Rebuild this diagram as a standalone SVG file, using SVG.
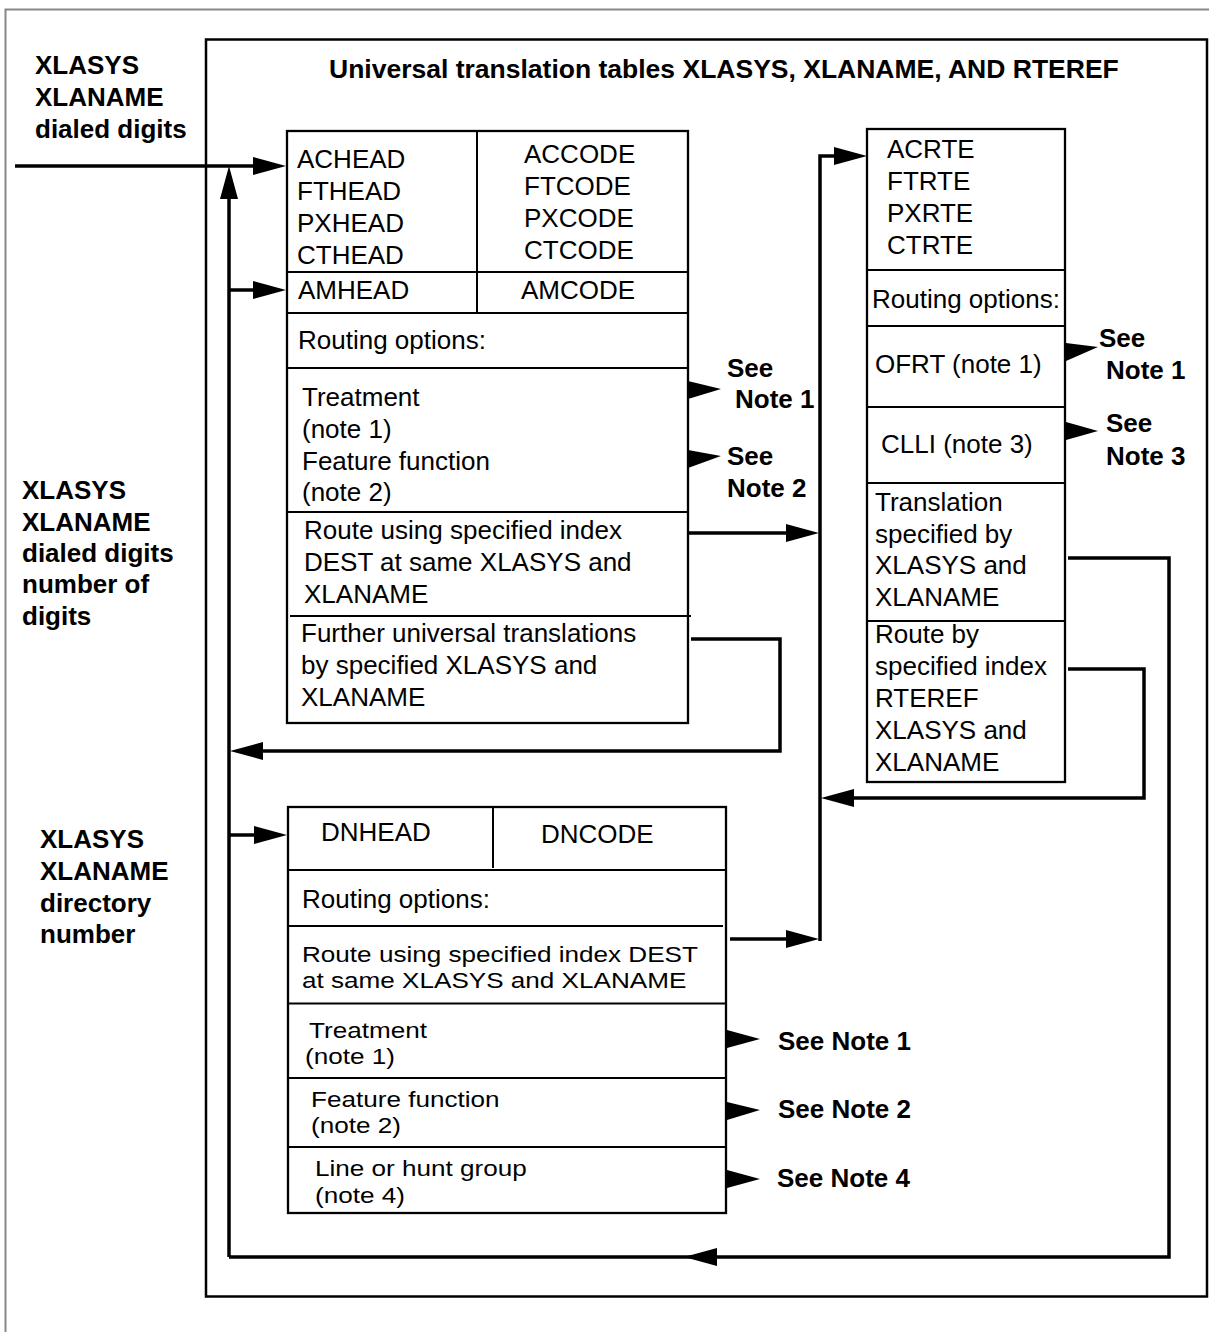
<svg xmlns="http://www.w3.org/2000/svg" xmlns:xlink="http://www.w3.org/1999/xlink" width="1209" height="1332" viewBox="0 0 1209 1332">
<style>
text{font-family:"Liberation Sans",Arial,Helvetica,sans-serif;fill:#000}
.r{font-size:26px}
.s{font-size:22.5px}
.b{font-size:26px;font-weight:bold}
.t{font-size:26.5px;font-weight:bold}
.box{fill:#fff;stroke:#000;stroke-width:2.3}
.div{stroke:#000;stroke-width:2;fill:none}
.con{stroke:#000;stroke-width:3.5;fill:none}
.ah{fill:#000;stroke:none}
</style>
<defs>
<path id="ah" d="M0,0 L-33,-9 L-33,9 Z"/>
</defs>
<rect x="0" y="0" width="1209" height="1332" fill="#fff"/>
<path d="M5.5,1332 V9.5 H1209" fill="none" stroke="#888" stroke-width="2"/>
<rect x="206" y="39.5" width="1001" height="1257" fill="none" stroke="#000" stroke-width="2.5"/>
<text class="t" x="329" y="78">Universal translation tables XLASYS, XLANAME, AND RTEREF</text>

<g id="label-dialed">
<text class="b" x="35" y="74">XLASYS</text>
<text class="b" x="35" y="106">XLANAME</text>
<text class="b" x="35" y="138">dialed digits</text>
</g>
<g id="label-number">
<text class="b" x="22" y="499">XLASYS</text>
<text class="b" x="22" y="531">XLANAME</text>
<text class="b" x="22" y="562">dialed digits</text>
<text class="b" x="22" y="593">number of</text>
<text class="b" x="22" y="625">digits</text>
</g>
<g id="label-directory">
<text class="b" x="40" y="848">XLASYS</text>
<text class="b" x="40" y="880">XLANAME</text>
<text class="b" x="40" y="912">directory</text>
<text class="b" x="40" y="943">number</text>
</g>

<g id="connectors">
<path class="con" d="M15,166 H255"/>
<path class="con" d="M229,290 H255"/>
<path class="con" d="M229,835 H255"/>
<path class="con" d="M229,1257 V195"/>
<path class="con" d="M1068,558 H1169 V1257 H229"/>
<path class="con" d="M1068,669 H1144 V798 H850"/>
<path class="con" d="M691,639 H780 V751 H258"/>
<path class="con" d="M688,533 H790"/>
<path class="con" d="M730,939 H790"/>
<path class="con" d="M820,941 V156 H838"/>
<use xlink:href="#ah" class="ah" transform="translate(286,166)"/>
<use xlink:href="#ah" class="ah" transform="translate(286,290)"/>
<use xlink:href="#ah" class="ah" transform="translate(287,835)"/>
<use xlink:href="#ah" class="ah" transform="translate(229,166) rotate(-90)"/>
<use xlink:href="#ah" class="ah" transform="translate(684,1257) rotate(180)"/>
<use xlink:href="#ah" class="ah" transform="translate(821,798) rotate(180)"/>
<use xlink:href="#ah" class="ah" transform="translate(230,751) rotate(180)"/>
<use xlink:href="#ah" class="ah" transform="translate(819,533)"/>
<use xlink:href="#ah" class="ah" transform="translate(819,939)"/>
<use xlink:href="#ah" class="ah" transform="translate(867,156)"/>
<polygon class="ah" points="688,381 688,399 721,389"/>
<polygon class="ah" points="688,450 688,468 721,456"/>
<polygon class="ah" points="1066,343 1066,361 1098,347"/>
<polygon class="ah" points="1066,422 1066,440 1098,431"/>
<polygon class="ah" points="727,1030 727,1048 760,1039"/>
<polygon class="ah" points="727,1102 727,1120 760,1110"/>
<polygon class="ah" points="727,1170 727,1188 760,1179"/>
</g>

<g id="note-labels">
<text class="b" x="727" y="377">See</text>
<text class="b" x="735" y="408">Note 1</text>
<text class="b" x="727" y="465">See</text>
<text class="b" x="727" y="497">Note 2</text>
<text class="b" x="1099" y="347">See</text>
<text class="b" x="1106" y="379">Note 1</text>
<text class="b" x="1106" y="432">See</text>
<text class="b" x="1106" y="465">Note 3</text>
<text class="b" x="778" y="1050">See Note 1</text>
<text class="b" x="778" y="1118">See Note 2</text>
<text class="b" x="777" y="1187">See Note 4</text>
</g>

<g id="node-head-code">
<rect class="box" x="287" y="131" width="401" height="592"/>
<path class="div" d="M477,131 V313 M287,272 H688 M287,313 H688 M287,368 H688 M287,512 H688 M290,616 H691"/>
<text class="r" x="297" y="168">ACHEAD</text>
<text class="r" x="297" y="200">FTHEAD</text>
<text class="r" x="297" y="232">PXHEAD</text>
<text class="r" x="297" y="264">CTHEAD</text>
<text class="r" x="524" y="163">ACCODE</text>
<text class="r" x="524" y="195">FTCODE</text>
<text class="r" x="524" y="227">PXCODE</text>
<text class="r" x="524" y="259">CTCODE</text>
<text class="r" x="298" y="299">AMHEAD</text>
<text class="r" x="521" y="299">AMCODE</text>
<text class="r" x="298" y="349">Routing options:</text>
<text class="r" x="302" y="406">Treatment</text>
<text class="r" x="302" y="438">(note 1)</text>
<text class="r" x="302" y="470">Feature function</text>
<text class="r" x="302" y="501">(note 2)</text>
<text class="r" x="304" y="539">Route using specified index</text>
<text class="r" x="304" y="571">DEST at same XLASYS and</text>
<text class="r" x="304" y="603">XLANAME</text>
<text class="r" x="301" y="642">Further universal translations</text>
<text class="r" x="301" y="674">by specified XLASYS and</text>
<text class="r" x="301" y="706">XLANAME</text>
</g>

<g id="node-rte">
<rect class="box" x="867" y="129" width="198" height="653"/>
<path class="div" d="M867,270 H1065 M867,326 H1065 M867,407 H1065 M867,483 H1065 M867,621 H1065"/>
<text class="r" x="887" y="158">ACRTE</text>
<text class="r" x="887" y="190">FTRTE</text>
<text class="r" x="887" y="222">PXRTE</text>
<text class="r" x="887" y="254">CTRTE</text>
<text class="r" x="872" y="308">Routing options:</text>
<text class="r" x="875" y="373">OFRT (note 1)</text>
<text class="r" x="881" y="453">CLLI (note 3)</text>
<text class="r" x="875" y="511">Translation</text>
<text class="r" x="875" y="543">specified by</text>
<text class="r" x="875" y="574">XLASYS and</text>
<text class="r" x="875" y="606">XLANAME</text>
<text class="r" x="875" y="643">Route by</text>
<text class="r" x="875" y="675">specified index</text>
<text class="r" x="875" y="707">RTEREF</text>
<text class="r" x="875" y="739">XLASYS and</text>
<text class="r" x="875" y="771">XLANAME</text>
</g>

<g id="node-dn">
<rect class="box" x="288" y="807" width="438" height="406"/>
<path class="div" d="M493,807 V868 M288,870 H726 M288,926 H723 M288,1003.5 H726 M288,1078 H726 M288,1147 H726"/>
<text class="r" x="321" y="841">DNHEAD</text>
<text class="r" x="541" y="843">DNCODE</text>
<text class="r" x="302" y="908">Routing options:</text>
<text class="s" transform="translate(302,962) scale(1.16,1)">Route using specified index DEST</text>
<text class="s" transform="translate(302,988) scale(1.16,1)">at same XLASYS and XLANAME</text>
<text class="s" transform="translate(309,1038) scale(1.16,1)">Treatment</text>
<text class="s" transform="translate(305,1064) scale(1.16,1)">(note 1)</text>
<text class="s" transform="translate(311,1107) scale(1.16,1)">Feature function</text>
<text class="s" transform="translate(311,1133) scale(1.16,1)">(note 2)</text>
<text class="s" transform="translate(315,1176) scale(1.16,1)">Line or hunt group</text>
<text class="s" transform="translate(315,1203) scale(1.16,1)">(note 4)</text>
</g>
</svg>
